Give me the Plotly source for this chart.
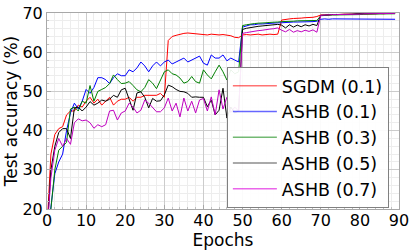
import plotly.graph_objects as go

epochs = list(range(90))

sgdm_01 = [15, 34, 39, 40.5, 41, 44, 45, 45, 46.5, 46, 47.5, 48.5, 47, 48, 46.5, 47.5, 48.5, 46.5, 47.5, 48,
           48, 48.5, 47.5, 48.5, 48.5, 49, 49, 49, 49, 49.5, 48.5, 63, 64, 64.3, 64.6, 64.8, 64.9, 64.8, 64.7, 64.6,
           64.6, 64.4, 64.6, 64.5, 64.4, 64.5, 64.3, 64.2, 63.8, 63.7, 64.4, 64.5, 64.4, 64.5, 64.6, 64.4, 64.5, 64.6, 64.5, 64.6,
           68.2, 68.4, 68.5, 68.6, 68.6, 68.7, 68.8, 68.8, 68.9, 69.1, 69.5, 69.5, 69.6, 69.6, 69.6, 69.7, 69.7, 69.7, 69.7, 69.8,
           69.8, 69.8, 69.8, 69.8, 69.8, 69.9, 69.8, 69.9, 69.9, 69.9]

ashb_01 = [12, 20, 29, 32, 34, 40, 44.5, 47, 45.5, 47.5, 50.5, 49.5, 51, 53.5, 53.5, 53, 52, 53.5, 54.5, 54,
           54, 55.5, 55, 56, 57.5, 56.5, 55, 56.5, 57.5, 56.5, 57.5, 58, 57, 57.5, 58, 58.5, 57.5, 58, 58.5, 59,
           57.2, 56.7, 59.3, 58.5, 58.5, 59.3, 57.8, 58.5, 58, 57.5, 66.4, 66.8, 67, 67, 67.2, 67.2, 67.3, 67.4, 67.4, 67.5,
           67.5, 67.6, 67.6, 67.7, 67.7, 67.7, 67.8, 67.8, 67.8, 67.9, 68.4, 68.5, 68.4, 68.5, 68.5, 68.4, 68.5, 68.5, 68.4, 68.5,
           68.5, 68.4, 68.5, 68.5, 68.4, 68.5, 68.5, 68.4, 68.5, 68.4]

ashb_03 = [12, 20, 30, 35, 36, 37, 45.5, 46, 45, 47.5, 47, 51.5, 47.5, 50, 50.5, 51, 52, 54.2, 53, 52,
           52.1, 52.5, 51.5, 50.4, 49.9, 51, 53, 52.1, 50.7, 52.9, 55, 55.5, 54.5, 54.2, 53.4, 52.1, 52.5, 53.8, 52.5, 52.1,
           55.5, 54.2, 53.2, 55, 56.7, 55, 52.9, 55.5, 54.5, 55, 66.8, 67, 67.2, 67.3, 67.4, 67.4, 67.5, 67.6, 67.6, 67.7,
           67.8, 67.8, 67.9, 67.9, 68, 68, 68, 68.1, 68.1, 68.1, 69.3, 69.4, 69.4, 69.5, 69.5, 69.5, 69.6, 69.6, 69.6, 69.6,
           69.6, 69.7, 69.7, 69.7, 69.7, 69.7, 69.7, 69.7, 69.8, 69.8]

ashb_05 = [14, 30, 36, 39.5, 40.5, 40.5, 38, 45.8, 46, 45, 46, 47.4, 46.5, 47, 47.8, 47.5, 48, 49, 48.5, 50.4,
           50.8, 47.8, 45.2, 49.6, 49.9, 48.5, 45.8, 48.2, 47.5, 47.6, 49.1, 51.6, 51.2, 50.5, 50, 49.9, 49.5, 48.5, 48.6, 48.5,
           48.5, 46.1, 47.8, 44, 45.2, 50.8, 43.2, 46, 44.5, 45, 65.8, 66.1, 66.3, 66.5, 66.6, 66.7, 66.8, 66.9, 67, 67.1,
           66.9, 66.2, 67, 66.4, 66.9, 66.5, 67, 66.7, 67.1, 66.8, 69.4, 69.5, 69.5, 69.6, 69.6, 69.6, 69.7, 69.7, 69.7, 69.8,
           69.8, 69.8, 69.8, 69.8, 69.9, 69.9, 69.9, 69.9, 69.9, 69.9]

ashb_07 = [14, 28, 35, 38, 36, 38, 36.5, 42, 43, 42.5, 42.7, 42, 40.6, 41.5, 41, 41.5, 45, 45.2, 42.7, 44.5,
           45, 47, 46, 44.5, 45.2, 47.8, 47, 46, 44.8, 44.8, 45.8, 48.3, 45, 47, 43.5, 48.3, 45, 47.5, 44.5, 47.8,
           48.2, 45, 48.6, 44, 50.4, 45.5, 48.5, 44.6, 46, 45, 64.8, 65, 65.2, 65.3, 65.5, 65.6, 65.8, 65.9, 66, 66.2,
           65.6, 65.2, 65.8, 65.1, 65.5, 65.2, 65.6, 65.3, 65.7, 65.1, 69.4, 69.5, 69.5, 69.6, 69.6, 69.6, 69.7, 69.7, 69.7, 69.7,
           69.7, 69.8, 69.8, 69.8, 69.8, 69.8, 69.8, 69.8, 69.8, 69.9]

names = ["SGDM (0.1)", "ASHB (0.1)", "ASHB (0.3)", "ASHB (0.5)", "ASHB (0.7)"]
series = [sgdm_01, ashb_01, ashb_03, ashb_05, ashb_07]
colors = ["#ff0000", "#0000ff", "#008000", "#000000", "#bf00bf"]
legend_colors = ["rgba(255,0,0,0.55)", "rgba(0,0,255,0.6)", "rgba(0,128,0,0.55)",
                 "rgba(0,0,0,0.45)", "rgba(220,0,220,0.6)"]

x_ticks = [0, 10, 20, 30, 40, 50, 60, 70, 80, 90]
y_ticks = [20, 30, 40, 50, 60, 70]

fig = go.Figure()
for name, ys, c in zip(names, series, colors):
    fig.add_trace(go.Scatter(x=epochs, y=ys, mode="lines", line=dict(color=c, width=1),
                             showlegend=False, hoverinfo="skip"))
for i, (name, lc) in enumerate(zip(names, legend_colors)):
    fig.add_trace(go.Scatter(x=[None], y=[None], mode="lines", name=name,
                             line=dict(color=lc, width=1.5), legendgroup=str(i)))

font = "DejaVu Sans, Arial, sans-serif"
axis_common = dict(
    showline=True, mirror=True, linecolor="#a8a8a8", linewidth=1,
    showgrid=True, gridcolor="#cccccc", gridwidth=1,
    ticks="inside", ticklen=4, tickcolor="#a8a8a8",
    zeroline=False, automargin=False,
    tickfont=dict(family=font, size=16, color="black"),
    minor=dict(dtick=2, showgrid=True, gridcolor="#ededed", gridwidth=1,
               ticks="inside", ticklen=2, tickcolor="#c0c0c0"),
)

fig.update_layout(
    width=415, height=252,
    margin=dict(l=47, r=16, t=13, b=43),
    plot_bgcolor="white", paper_bgcolor="white",
    font=dict(family=font, size=16, color="black"),
    xaxis=dict(range=[0, 90], tickvals=x_ticks, ticklabelstandoff=-3,
               title=dict(text="Epochs", standoff=0, font=dict(family=font, size=17)), **axis_common),
    yaxis=dict(range=[20, 70], tickvals=y_ticks,
               title=dict(text="Test accuracy (%)", standoff=0, font=dict(family=font, size=17)), **axis_common),
    legend=dict(x=0.511, y=0.7245, xanchor="left", yanchor="top",
                bgcolor="rgba(255,255,255,0.92)", bordercolor="#808080", borderwidth=1,
                font=dict(family=font, size=17.5), tracegroupgap=0, itemwidth=44),
)

fig.write_html("out.html", config={"displayModeBar": False},
               post_script="document.body.style.margin='0';document.body.style.padding='0';")
